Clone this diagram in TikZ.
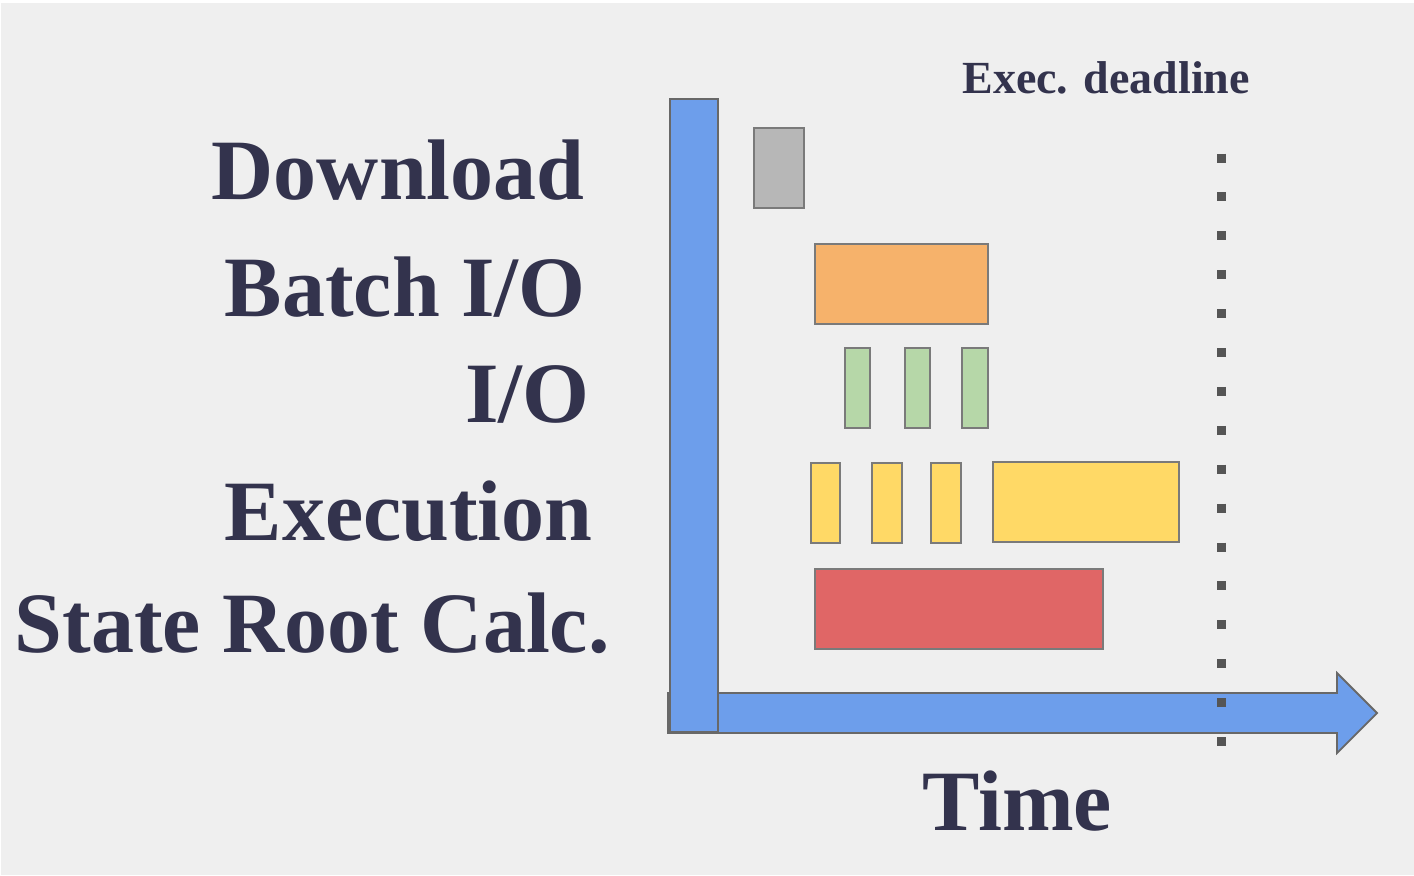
\documentclass[tikz,border=0pt]{standalone}
\usepackage{fontspec}
\setmainfont{Liberation Serif}
\definecolor{bgc}{HTML}{EFEFEF}
\definecolor{txt}{HTML}{33334D}
\definecolor{axisblue}{HTML}{6D9EEB}
\definecolor{edgec}{HTML}{7A7A7A}
\definecolor{grayc}{HTML}{B7B7B7}
\definecolor{orangec}{HTML}{F6B26B}
\definecolor{greenc}{HTML}{B6D7A8}
\definecolor{yellowc}{HTML}{FFD966}
\definecolor{redc}{HTML}{E06666}
\definecolor{dotc}{HTML}{555555}
\tikzset{
  barbox/.style={draw=edgec, line width=0.9pt},
  axisshape/.style={draw=edgec!85!black, line width=0.9pt, fill=axisblue},
  lab/.style={text=txt, inner sep=0pt, font=\bfseries\fontsize{43}{43}\selectfont},
  smalllab/.style={text=txt, inner sep=0pt, font=\bfseries\fontsize{23}{23}\selectfont},
  deadline/.style={draw=dotc, line width=4.5pt, dash pattern=on 4.5pt off 14.95pt}
}
\begin{document}
\begin{tikzpicture}[x=0.5pt, y=-0.5pt]
\useasboundingbox (0,0) rectangle (1414,875);
\fill[white] (0,0) rectangle (1414,875);
\fill[bgc] (1,3) rectangle (1414,875);

% labels
\node[lab, anchor=base east] (tdl) at (585,199) {Download};
\node[lab, anchor=base east] (tbio) at (586,316) {Batch I/O};
\node[lab, anchor=base east] (tio) at (590,422) {I/O};
\node[lab, anchor=base east] (tex) at (593,540) {Execution};
\node[lab, anchor=base east] (tsr) at (610,652) {State Root Calc.};
\node[lab, anchor=base west] (ttime) at (922,830) {Time};
\node[smalllab, anchor=base west] (tdead) at (962,93) {Exec. deadline};

% time axis arrow
\draw[axisshape] (668,693) -- (1337,693) -- (1337,673) -- (1377,713)
  -- (1337,753) -- (1337,733) -- (668,733) -- cycle;
% vertical axis
\draw[axisshape] (670,99) rectangle (718,732);

% bars
\draw[barbox, fill=grayc] (754,128) rectangle (804,208);
\draw[barbox, fill=orangec] (815,244) rectangle (988,324);
\draw[barbox, fill=greenc] (845,348) rectangle (870,428);
\draw[barbox, fill=greenc] (905,348) rectangle (930,428);
\draw[barbox, fill=greenc] (962,348) rectangle (988,428);
\draw[barbox, fill=yellowc] (811,463) rectangle (840,543);
\draw[barbox, fill=yellowc] (872,463) rectangle (902,543);
\draw[barbox, fill=yellowc] (931,463) rectangle (961,543);
\draw[barbox, fill=yellowc] (993,462) rectangle (1179,542);
\draw[barbox, fill=redc] (815,569) rectangle (1103,649);

% deadline
\coordinate (dtop) at (1221,153.5);
\coordinate (dbot) at (1221,746);
\draw[deadline] (dtop) -- (dbot);
\end{tikzpicture}
\end{document}
